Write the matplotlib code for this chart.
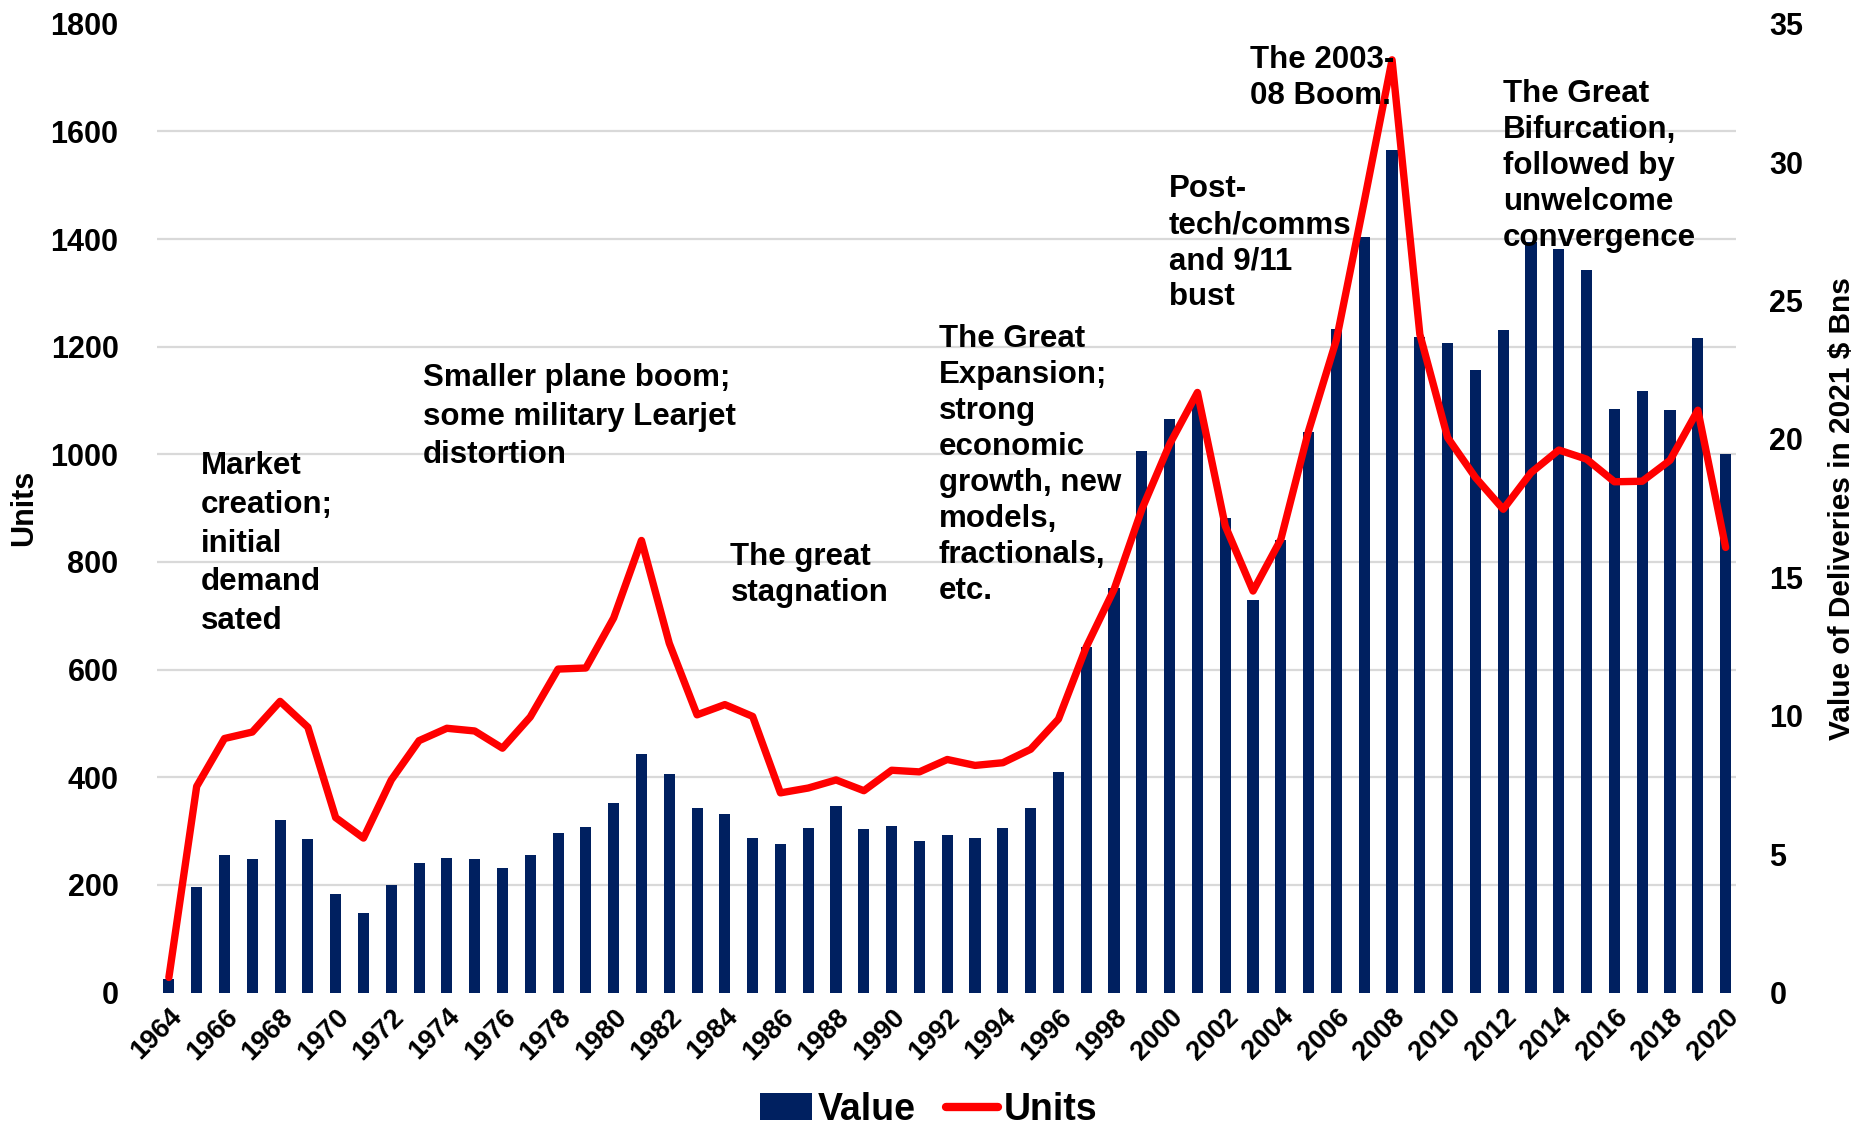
import numpy as np
import matplotlib.pyplot as plt
from matplotlib.patches import Patch
from matplotlib.lines import Line2D

plt.rcParams['font.family'] = ['Liberation Sans', 'DejaVu Sans']
plt.rcParams['font.weight'] = 'bold'

years = np.arange(1964, 2021)

# value of deliveries, 2021 $ Bns (bars, right axis)
value_bn = [0.5, 3.83, 4.98, 4.82, 6.22, 5.56, 3.56, 2.86, 3.89, 4.67,
            4.86, 4.84, 4.49, 4.98, 5.76, 5.99, 6.83, 8.63, 7.91, 6.67,
            6.44, 5.60, 5.37, 5.95, 6.73, 5.91, 6.01, 5.48, 5.70, 5.60,
            5.95, 6.67, 7.97, 12.5, 14.6, 19.58, 20.73, 21.3, 17.15, 14.18,
            16.35, 20.26, 23.97, 27.28, 30.45, 23.7, 23.45, 22.48, 23.92, 27.1,
            26.87, 26.11, 21.1, 21.74, 21.04, 23.64, 19.44]

# units delivered (line, left axis)
units = [28, 383, 472, 484, 541, 493, 325, 287, 395, 468,
         491, 486, 454, 512, 601, 603, 696, 840, 649, 516,
         535, 513, 371, 380, 395, 375, 413, 410, 433, 422,
         427, 452, 508, 642, 749, 898, 1019, 1115, 867, 746,
         842, 1044, 1213, 1470, 1733, 1223, 1031, 957, 898, 966,
         1008, 991, 949, 950, 989, 1082, 827]

tick_years = np.arange(1964, 2021, 2)
units_ticks = np.arange(0, 1801, 200)
value_ticks = np.arange(0, 36, 5)

# period notes: text, x (year), top (units), line spacing
notes = [
    ("Market\ncreation;\ninitial\ndemand\nsated", 1965.15, 1006, 1.38),
    ("Smaller plane boom;\nsome military Learjet\ndistortion", 1973.14, 1170, 1.38),
    ("The great\nstagnation", 1984.2, 837, 1.26),
    ("The Great\nExpansion;\nstrong\neconomic\ngrowth, new\nmodels,\nfractionals,\netc.", 1991.7, 1242, 1.26),
    ("Post-\ntech/comms\nand 9/11\nbust", 1999.97, 1520, 1.26),
    ("The 2003-\n08 Boom.", 2002.9, 1760, 1.26),
    ("The Great\nBifurcation,\nfollowed by\nunwelcome\nconvergence", 2012.0, 1698, 1.26),
]

navy = '#002060'
red = '#ff0000'
grid_c = '#d9d9d9'

fig = plt.figure(figsize=(18.57, 11.32), dpi=100)
ax = fig.add_axes([0.0848, 0.1232, 0.85, 0.8558])
axl = ax.twinx()

# bars on the value axis (drawn underneath)
ax.bar(years, value_bn, width=0.4, color=navy, zorder=2)
ax.set_ylim(0, 35)
ax.set_yticks(value_ticks)
ax.yaxis.tick_right()
ax.yaxis.set_label_position('right')
ax.set_ylabel('Value of Deliveries in 2021 $ Bns', fontsize=21.5, fontweight='bold', labelpad=18)

# gridlines follow the units axis but sit behind the bars
ax.set_yticks(units_ticks * 35 / 1800, minor=True)
ax.grid(which='minor', axis='y', color=grid_c, linewidth=1.6, zorder=0)
ax.grid(which='major', visible=False)
ax.tick_params(axis='y', which='both', length=0, labelsize=22, pad=24)
ax.set_axisbelow(True)

# units line on top
axl.plot(years, units, color=red, linewidth=5.3, solid_joinstyle='round',
         solid_capstyle='round', zorder=3)
axl.set_ylim(0, 1800)
axl.set_yticks(units_ticks)
axl.yaxis.tick_left()
axl.yaxis.set_label_position('left')
axl.set_ylabel('Units', fontsize=22, fontweight='bold', labelpad=8)
axl.tick_params(axis='y', length=0, labelsize=22, pad=28)

ax.set_xlim(1963.59, 2020.37)
ax.set_xticks(tick_years)
ax.set_xticklabels([str(y) for y in tick_years], rotation=45, ha='right',
                   rotation_mode='anchor', fontsize=19.5)
ax.tick_params(axis='x', length=0, pad=8)

for a in (ax, axl):
    for s in a.spines.values():
        s.set_visible(False)

for txt, x, y, ls in notes:
    axl.text(x, y, txt, fontsize=22.5, fontweight='bold', va='top', ha='left',
             linespacing=ls)

handles = [Patch(facecolor=navy, label='Value'),
           Line2D([0], [0], color=red, linewidth=6, solid_capstyle='round', label='Units')]
fig.legend(handles=handles, loc='lower center', bbox_to_anchor=(0.5, -0.026), ncol=2,
           frameon=False, prop={'size': 27, 'weight': 'bold'}, handlelength=1.4,
           handletextpad=0.15, columnspacing=0.8)

fig.savefig('out.png', dpi=100)
